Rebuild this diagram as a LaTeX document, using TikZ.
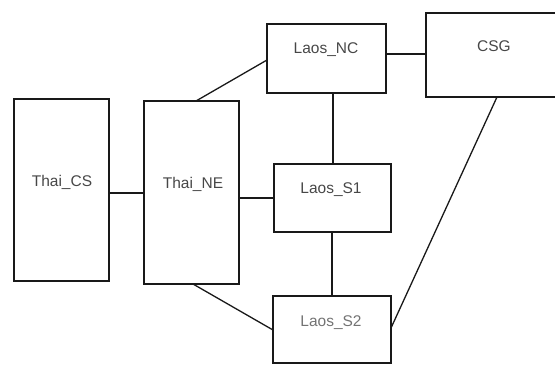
\documentclass[tikz,border=0pt]{standalone}
\usepackage{fontspec}
\setmainfont{Liberation Sans}
\begin{document}
\begin{tikzpicture}[x=1pt,y=-1pt,
  box/.style={draw=black!90, line width=1.6pt, inner sep=0pt, outer sep=0pt},
  lbl/.style={text=black!72, inner sep=0pt, font=\fontsize{15.5}{18}\selectfont},
  conn/.style={draw=black!90, line width=1.3pt},
  thick conn/.style={draw=black!90, line width=2.4pt}]
\useasboundingbox (0,0) rectangle (555,365);
% boxes
\node[box, minimum width=95pt, minimum height=182pt] (tcs) at (61.5,190) {};
\node[box, minimum width=95pt, minimum height=183pt] (tne) at (191.5,192.5) {};
\node[box, minimum width=119pt, minimum height=69pt] (lnc) at (326.5,58.5) {};
\node[box, minimum width=140pt, minimum height=84pt] (csg) at (496,55) {};
\node[box, minimum width=117pt, minimum height=68pt] (ls1) at (332.5,198) {};
\node[box, minimum width=118pt, minimum height=67pt] (ls2) at (332,329.5) {};
% labels
\node[lbl] (ttcs) at (62,182) {Thai\_CS};
\node[lbl] (ttne) at (193,184) {Thai\_NE};
\node[lbl] (tlnc) at (326,50) {Laos\_NC};
\node[lbl] (tcsg) at (494,46) {CSG};
\node[lbl] (tls1) at (331,190) {Laos\_S1};
\node[lbl, text=black!55] (tls2) at (331,323) {Laos\_S2};
% connectors
\draw[conn] ([yshift=-94pt]tcs.north east) coordinate (p1) -- (p1 -| tne.west);
\draw[conn] ([xshift=52pt]tne.north west) -- ([yshift=-36pt]lnc.north west);
\draw[conn] ([yshift=-30pt]lnc.north east) coordinate (p3) -- (p3 -| csg.west);
\draw[conn] ([xshift=66pt]lnc.south west) coordinate (p4) -- (p4 |- ls1.north);
\draw[thick conn] ([yshift=-97pt]tne.north east) coordinate (p5) -- (p5 -| ls1.west);
\draw[conn] ([xshift=58pt]ls1.south west) coordinate (p6) -- (p6 |- ls2.north);
\draw[conn] ([xshift=49pt]tne.south west) -- ([yshift=-34pt]ls2.north west);
\draw[conn] ([xshift=71pt]csg.south west) -- ([yshift=-32pt]ls2.north east);
\end{tikzpicture}
\end{document}
